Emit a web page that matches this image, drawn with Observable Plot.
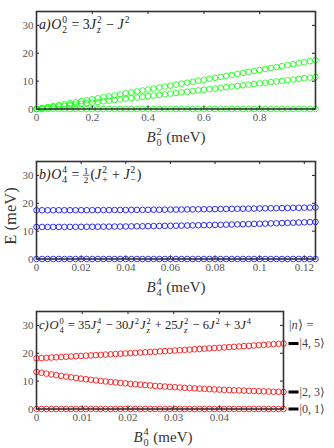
<!DOCTYPE html>
<html><head><meta charset="utf-8">
<script src="https://cdn.jsdelivr.net/npm/d3@7"></script>
<script src="https://cdn.jsdelivr.net/npm/@observablehq/plot@0.6"></script>
<style>
html,body{margin:0;padding:0;background:#fff;width:334px;height:448px;overflow:hidden}
#wrap{position:relative;width:334px;height:448px;overflow:hidden}
.panel{position:absolute;left:0}
.panel svg{display:block}
</style></head><body><div id="wrap"></div>
<script>
// ---- data ----
const xA = [0,0.02,0.04,0.06,0.08,0.1,0.12,0.14,0.16,0.18,0.2,0.22,0.24,0.26,0.28,0.3,0.32,0.34,0.36,0.38,0.4,0.42,0.44,0.46,0.48,0.5,0.52,0.54,0.56,0.58,0.6,0.62,0.64,0.66,0.68,0.7,0.72,0.74,0.76,0.78,0.8,0.82,0.84,0.86,0.88,0.9,0.92,0.94,0.96,0.98,1];
const aTop = [0,0.35,0.7,1.05,1.4,1.75,2.1,2.45,2.8,3.15,3.5,3.85,4.2,4.55,4.9,5.25,5.6,5.95,6.3,6.65,7.0,7.35,7.7,8.05,8.4,8.75,9.1,9.45,9.8,10.15,10.5,10.85,11.2,11.55,11.9,12.25,12.6,12.95,13.3,13.65,14.0,14.35,14.7,15.05,15.4,15.75,16.1,16.45,16.8,17.15,17.5];
const aMid = [0,0.23,0.46,0.69,0.92,1.15,1.38,1.61,1.84,2.07,2.3,2.53,2.76,2.99,3.22,3.45,3.68,3.91,4.14,4.37,4.6,4.83,5.06,5.29,5.52,5.75,5.98,6.21,6.44,6.67,6.9,7.13,7.36,7.59,7.82,8.05,8.28,8.51,8.74,8.97,9.2,9.43,9.66,9.89,10.12,10.35,10.58,10.81,11.04,11.27,11.5];
const aLow = [0,0,0,0,0,0,0,0,0,0,0,0,0,0,0,0,0,0,0,0,0,0,0,0,0,0,0,0,0,0,0,0,0,0,0,0,0,0,0,0,0,0,0,0,0,0,0,0,0,0,0];

const xB = [0,0.0025,0.005,0.0075,0.01,0.0125,0.015,0.0175,0.02,0.0225,0.025,0.0275,0.03,0.0325,0.035,0.0375,0.04,0.0425,0.045,0.0475,0.05,0.0525,0.055,0.0575,0.06,0.0625,0.065,0.0675,0.07,0.0725,0.075,0.0775,0.08,0.0825,0.085,0.0875,0.09,0.0925,0.095,0.0975,0.1,0.1025,0.105,0.1075,0.11,0.1125,0.115,0.1175,0.12,0.1225,0.125];
const bTop = [17.50,17.50,17.50,17.50,17.51,17.51,17.51,17.52,17.53,17.53,17.54,17.55,17.56,17.57,17.58,17.59,17.60,17.62,17.63,17.64,17.66,17.68,17.69,17.71,17.73,17.75,17.77,17.79,17.81,17.84,17.86,17.88,17.91,17.94,17.96,17.99,18.02,18.05,18.08,18.11,18.14,18.17,18.21,18.24,18.27,18.31,18.35,18.38,18.42,18.46,18.50];
const bMid = [11.50,11.50,11.50,11.51,11.51,11.52,11.53,11.54,11.55,11.56,11.57,11.59,11.60,11.62,11.64,11.66,11.68,11.71,11.73,11.76,11.79,11.82,11.85,11.88,11.91,11.95,11.99,12.02,12.06,12.11,12.15,12.19,12.24,12.28,12.33,12.38,12.43,12.49,12.54,12.60,12.65,12.71,12.77,12.83,12.89,12.96,13.02,13.09,13.16,13.23,13.30];
const bLow = [0,0,0,0,0,0,0,0,0,0,0,0,0,0,0,0,0,0,0,0,0,0,0,0,0,0,0,0,0,0,0,0,0,0,0,0,0,0,0,0,0,0,0,0,0,0,0,0,0,0,0];

const xC = [0,0.00108,0.00216,0.00324,0.00432,0.0054,0.00648,0.00756,0.00864,0.00972,0.0108,0.01188,0.01296,0.01404,0.01512,0.0162,0.01728,0.01836,0.01944,0.02052,0.0216,0.02268,0.02376,0.02484,0.02592,0.027,0.02808,0.02916,0.03024,0.03132,0.0324,0.03348,0.03456,0.03564,0.03672,0.0378,0.03888,0.03996,0.04104,0.04212,0.0432,0.04428,0.04536,0.04644,0.04752,0.0486,0.04968,0.05076,0.05184,0.05292,0.054];
const cTop = [18.20,18.29,18.39,18.48,18.57,18.67,18.76,18.86,18.95,19.05,19.15,19.25,19.34,19.44,19.54,19.64,19.74,19.84,19.95,20.05,20.15,20.26,20.36,20.46,20.57,20.68,20.78,20.89,21.00,21.10,21.21,21.32,21.43,21.54,21.65,21.76,21.87,21.99,22.10,22.21,22.33,22.44,22.56,22.67,22.79,22.91,23.02,23.14,23.26,23.38,23.50];
const cMid = [13.30,12.99,12.70,12.42,12.14,11.88,11.63,11.38,11.14,10.91,10.69,10.48,10.28,10.08,9.89,9.70,9.53,9.35,9.19,9.03,8.88,8.73,8.58,8.45,8.31,8.19,8.06,7.94,7.83,7.72,7.61,7.50,7.40,7.31,7.22,7.13,7.04,6.96,6.88,6.80,6.72,6.65,6.58,6.51,6.45,6.39,6.33,6.27,6.21,6.16,6.11];
const cLow = [0,0,0,0,0,0,0,0,0,0,0,0,0,0,0,0,0,0,0,0,0,0,0,0,0,0,0,0,0,0,0,0,0,0,0,0,0,0,0,0,0,0,0,0,0,0,0,0,0,0,0];

const yTicks = [0,10,20,30];
const xTicksA = [0,0.2,0.4,0.6,0.8];
const xTicksB = [0,0.02,0.04,0.06,0.08,0.1,0.12];
const xTicksC = [0,0.01,0.02,0.03,0.04];
const levelLabels = ["|4, 5⟩","|2, 3⟩","|0, 1⟩"];

// ---- drawing ----
const FONT = "Liberation Serif";
const W = 334, H = 150, MT = 11, MB = 41.5, ML = 36;
const dash = {draw(ctx){ ctx.rect(-5, -1.5, 10, 3); }};

function panel({xs, series, color, domain, ticks, mr, extra = []}) {
  const fw = W - ML - mr, fh = H - MT - MB;
  const rows = series.flatMap((s, k) => xs.map((x, i) => ({x, E: s[i], k})));
  const tk = {stroke: "#333", strokeWidth: 1.1};
  return Plot.plot({
    width: W, height: H, marginLeft: ML, marginRight: mr, marginTop: MT, marginBottom: MB,
    style: {fontFamily: FONT, fontSize: "11px", color: "#555", background: "transparent", overflow: "visible"},
    x: {domain, label: null},
    y: {domain: [0, 35], label: null},
    marks: [
      Plot.dot(rows, {x: "x", y: "E", r: 2.8, stroke: color, strokeWidth: 0.8}),
      ...extra,
      Plot.axisX(ticks, {tickSize: 0, tickPadding: 4, tickFormat: d => String(d), label: null, fill: "#555"}),
      Plot.axisY(yTicks, {tickSize: 0, tickPadding: 3, tickFormat: d => String(d), label: null, fill: "#555"}),
      Plot.tickX(ticks, {x: d => d, insetTop: fh - 3, ...tk}),
      Plot.tickX(ticks, {x: d => d, insetBottom: fh - 3, ...tk}),
      Plot.tickY(yTicks, {y: d => d, insetRight: fw - 3, ...tk}),
      Plot.tickY(yTicks, {y: d => d, insetLeft: fw - 3, ...tk}),
      Plot.frame({stroke: "#333", strokeWidth: 1.6})
    ]
  });
}

function mathText(svg, x, y, parts, o) {
  const size = o.size;
  const g = d3.select(svg).append("g").attr("font-family", FONT).attr("text-anchor", "start")
    .attr("fill", o.fill || "#222");
  let cx = 0;
  function put(str, px, dy, fs, italic) {
    const t = g.append("text").attr("x", px).attr("y", dy).attr("font-size", fs)
      .attr("text-anchor", "start")
      .attr("font-style", italic ? "italic" : "normal").attr("xml:space", "preserve")
      .style("white-space", "pre").text(str);
    return t.node().getComputedTextLength();
  }
  for (const p of parts) {
    if (p.frac) {
      const fs = size * 0.65;
      const w1 = put(p.frac[0], cx + 1, -size * 0.38, fs, false);
      put(p.frac[1], cx + 1, size * 0.32, fs, false);
      const w = w1 + 2;
      g.append("line").attr("x1", cx).attr("x2", cx + w).attr("y1", -size * 0.27).attr("y2", -size * 0.27)
        .attr("stroke", o.fill || "#222").attr("stroke-width", 0.7);
      cx += w + 1;
      continue;
    }
    if (p.t) cx += put(p.t, cx, 0, size, p.i) + (p.i ? 0.6 : 0);
    let w = 0;
    if (p.sub) w = Math.max(w, put(p.sub, cx + 0.3, size * 0.28, size * 0.68, p.si));
    if (p.sup) w = Math.max(w, put(p.sup, cx + 0.3, -size * 0.42, size * 0.68, p.pi));
    if (w) cx += w + 1.2;
  }
  const shift = o.anchor === "middle" ? -cx / 2 : 0;
  g.attr("transform", `translate(${x},${y}) rotate(${o.rotate || 0}) translate(${shift},0)`);
}

const wrap = document.getElementById("wrap");
function place(svg, top) {
  const d = document.createElement("div");
  d.className = "panel"; d.style.top = top + "px";
  d.appendChild(svg); wrap.appendChild(d);
  return svg;
}

// panel a
const sa = place(panel({xs: xA, series: [aLow, aMid, aTop], color: "#00ff00", domain: [0, 1], ticks: xTicksA, mr: 19}), 0);
mathText(sa, 39, 29, [{t: "a)", i: 1}, {t: "O", i: 1, sub: "2", sup: "0"}, {t: " = 3"}, {t: "J", i: 1, sub: "z", si: 1, sup: "2"}, {t: " − "}, {t: "J", i: 1, sup: "2"}], {size: 14});
mathText(sa, 176, 141.5, [{t: "B", i: 1, sub: "0", sup: "2"}, {t: " (meV)"}], {size: 15, anchor: "middle", fill: "#333"});

// panel b
const sb = place(panel({xs: xB, series: [bLow, bMid, bTop], color: "#0000ff", domain: [0, 0.125], ticks: xTicksB, mr: 19}), 150);
mathText(sb, 39, 29, [{t: "b)", i: 1}, {t: "O", i: 1, sub: "4", sup: "4"}, {t: " = "}, {frac: ["1", "2"]}, {t: "("}, {t: "J", i: 1, sub: "+", sup: "2"}, {t: " + "}, {t: "J", i: 1, sub: "−", sup: "2"}, {t: ")"}], {size: 14});
mathText(sb, 176, 141.5, [{t: "B", i: 1, sub: "4", sup: "4"}, {t: " (meV)"}], {size: 15, anchor: "middle", fill: "#333"});
mathText(sb, 15.5, 66, [{t: "E (meV)"}], {size: 16.5, anchor: "middle", rotate: -90, fill: "#333"});

// panel c
const ends = [cTop, cMid, cLow].map((s, k) => ({x: xC[xC.length - 1], E: s[s.length - 1], label: levelLabels[k]}));
const sc = place(panel({xs: xC, series: [cLow, cMid, cTop], color: "#ff0000", domain: [0, 0.054], ticks: xTicksC, mr: 51,
  extra: [
    Plot.dot(ends, {x: "x", y: "E", symbol: dash, r: 3, fill: "#000", stroke: null, dx: 10}),
    Plot.text(ends, {x: "x", y: "E", text: "label", dx: 16, textAnchor: "start", fontSize: 12, fill: "#444"})
  ]}), 300);
mathText(sc, 39, 29, [{t: "c)", i: 1}, {t: "O", i: 1, sub: "4", sup: "0"}, {t: " = 35"}, {t: "J", i: 1, sub: "z", si: 1, sup: "4"}, {t: " − 30"}, {t: "J", i: 1, sup: "2"}, {t: "J", i: 1, sub: "z", si: 1, sup: "2"}, {t: " + 25"}, {t: "J", i: 1, sub: "z", si: 1, sup: "2"}, {t: " − 6"}, {t: "J", i: 1, sup: "2"}, {t: " + 3"}, {t: "J", i: 1, sup: "4"}], {size: 12.6});
mathText(sc, 289, 29, [{t: "|"}, {t: "n", i: 1}, {t: "⟩ ="}], {size: 12.5, fill: "#444"});
mathText(sc, 163, 141.5, [{t: "B", i: 1, sub: "0", sup: "4"}, {t: " (meV)"}], {size: 15, anchor: "middle", fill: "#333"});
</script></body></html>
